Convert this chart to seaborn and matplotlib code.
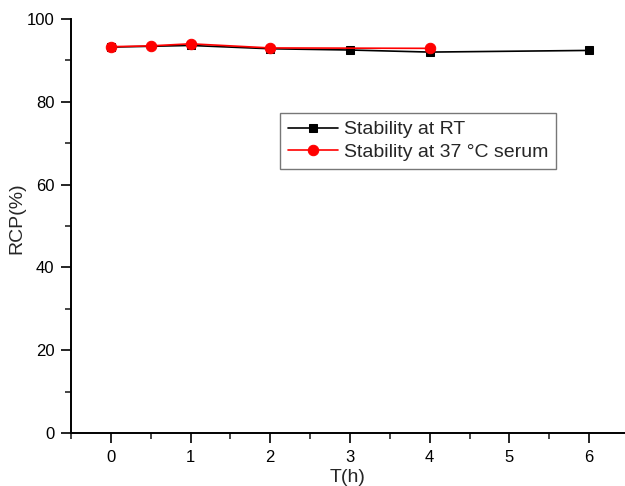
import numpy as np
import pandas as pd
import matplotlib.pyplot as plt
import seaborn as sns
from matplotlib.ticker import MultipleLocator

# données
t_rt = [0, 1, 2, 3, 4, 6]
rcp_rt = [93.2, 93.6, 92.8, 92.5, 92.0, 92.4]
t_serum = [0, 0.5, 1, 2, 4]
rcp_serum = [93.3, 93.5, 94.0, 93.0, 92.9]

df_rt = pd.DataFrame({'T': t_rt, 'RCP': rcp_rt})
df_serum = pd.DataFrame({'T': t_serum, 'RCP': rcp_serum})

sns.set_style('ticks')
plt.rcParams['font.family'] = ['Liberation Sans', 'DejaVu Sans']

fig = plt.figure(figsize=(6.25, 4.86), dpi=100)
ax = fig.add_axes([0.1136, 0.109, 0.8864, 0.852])

sns.lineplot(data=df_rt, x='T', y='RCP', ax=ax, color='black', marker='s',
             markersize=6, markeredgecolor='black', linewidth=1.2,
             label='Stability at RT')
sns.lineplot(data=df_serum, x='T', y='RCP', ax=ax, color='#ff0000', marker='o',
             markersize=7.5, markeredgecolor='#ff0000', linewidth=1.2,
             label='Stability at 37 °C serum')

ax.set_xlim(-0.5, 6.45)
ax.set_ylim(0, 100)
ax.xaxis.set_major_locator(MultipleLocator(1))
ax.xaxis.set_minor_locator(MultipleLocator(0.5))
ax.yaxis.set_major_locator(MultipleLocator(20))
ax.yaxis.set_minor_locator(MultipleLocator(10))
ax.tick_params(which='major', direction='out', length=7, width=1.2,
               labelsize=12, colors='black', pad=5)
ax.tick_params(which='minor', direction='out', length=4, width=1.2)
for s in ['top', 'right']:
    ax.spines[s].set_visible(False)
for s in ['left', 'bottom']:
    ax.spines[s].set_linewidth(1.4)
    ax.spines[s].set_color('black')

ax.set_xlabel('T(h)', fontsize=14, labelpad=3)
ax.set_ylabel('RCP(%)', fontsize=14)
ax.yaxis.set_label_coords(-0.082, 0.52)

leg = ax.legend(loc='upper left', bbox_to_anchor=(0.377, 0.773), fontsize=14,
                frameon=True, fancybox=False, edgecolor='#555555',
                handlelength=2.6, borderpad=0.4, labelspacing=0.25,
                handletextpad=0.3, borderaxespad=0)
leg.get_frame().set_linewidth(1.0)

fig.savefig('out.png', dpi=100)
